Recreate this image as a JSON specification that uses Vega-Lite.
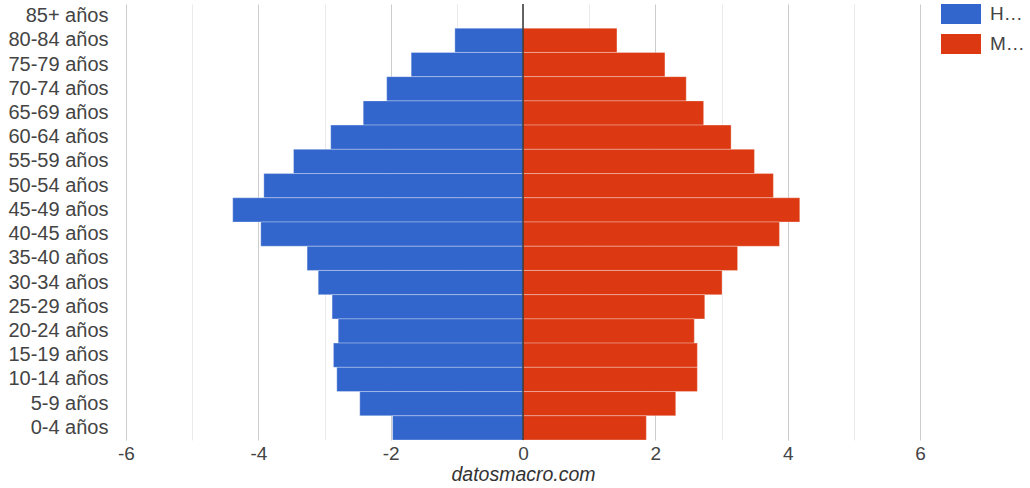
{
  "$schema": "https://vega.github.io/schema/vega-lite/v6.json",
  "autosize": "none",
  "width": 794,
  "height": 436,
  "padding": {"left": 126, "top": 4, "right": 110, "bottom": 48},
  "background": "white",
  "config": {
    "font": "Liberation Sans",
    "view": {"stroke": null}
  },
  "data": {
    "values": [
      {"edad": "85+ años", "sexo": "Hombres", "valor": 0},
      {"edad": "85+ años", "sexo": "Mujeres", "valor": 0},
      {"edad": "80-84 años", "sexo": "Hombres", "valor": -1.03},
      {"edad": "80-84 años", "sexo": "Mujeres", "valor": 1.42},
      {"edad": "75-79 años", "sexo": "Hombres", "valor": -1.69},
      {"edad": "75-79 años", "sexo": "Mujeres", "valor": 2.145},
      {"edad": "70-74 años", "sexo": "Hombres", "valor": -2.06},
      {"edad": "70-74 años", "sexo": "Mujeres", "valor": 2.467},
      {"edad": "65-69 años", "sexo": "Hombres", "valor": -2.415},
      {"edad": "65-69 años", "sexo": "Mujeres", "valor": 2.73},
      {"edad": "60-64 años", "sexo": "Hombres", "valor": -2.906},
      {"edad": "60-64 años", "sexo": "Mujeres", "valor": 3.145},
      {"edad": "55-59 años", "sexo": "Hombres", "valor": -3.468},
      {"edad": "55-59 años", "sexo": "Mujeres", "valor": 3.498},
      {"edad": "50-54 años", "sexo": "Hombres", "valor": -3.917},
      {"edad": "50-54 años", "sexo": "Mujeres", "valor": 3.784},
      {"edad": "45-49 años", "sexo": "Hombres", "valor": -4.387},
      {"edad": "45-49 años", "sexo": "Mujeres", "valor": 4.183},
      {"edad": "40-45 años", "sexo": "Hombres", "valor": -3.963},
      {"edad": "40-45 años", "sexo": "Mujeres", "valor": 3.876},
      {"edad": "35-40 años", "sexo": "Hombres", "valor": -3.263},
      {"edad": "35-40 años", "sexo": "Mujeres", "valor": 3.243},
      {"edad": "30-34 años", "sexo": "Hombres", "valor": -3.095},
      {"edad": "30-34 años", "sexo": "Mujeres", "valor": 3.008},
      {"edad": "25-29 años", "sexo": "Hombres", "valor": -2.885},
      {"edad": "25-29 años", "sexo": "Mujeres", "valor": 2.747},
      {"edad": "20-24 años", "sexo": "Hombres", "valor": -2.793},
      {"edad": "20-24 años", "sexo": "Mujeres", "valor": 2.589},
      {"edad": "15-19 años", "sexo": "Hombres", "valor": -2.865},
      {"edad": "15-19 años", "sexo": "Mujeres", "valor": 2.635},
      {"edad": "10-14 años", "sexo": "Hombres", "valor": -2.814},
      {"edad": "10-14 años", "sexo": "Mujeres", "valor": 2.635},
      {"edad": "5-9 años", "sexo": "Hombres", "valor": -2.467},
      {"edad": "5-9 años", "sexo": "Mujeres", "valor": 2.308},
      {"edad": "0-4 años", "sexo": "Hombres", "valor": -1.971},
      {"edad": "0-4 años", "sexo": "Mujeres", "valor": 1.864}
    ]
  },
  "layer": [
    {
      "mark": {"type": "bar", "stroke": "#ffffff", "strokeWidth": 1, "strokeOpacity": 0.3},
      "encoding": {
        "y": {
          "field": "edad",
          "type": "nominal",
          "sort": null,
          "scale": {"paddingInner": 0, "paddingOuter": 0},
          "axis": {
            "title": null,
            "domain": false,
            "ticks": false,
            "labelFontSize": 20,
            "labelColor": "#444444",
            "labelPadding": 18
          }
        },
        "x": {
          "field": "valor",
          "type": "quantitative",
          "scale": {"domain": [-6, 6], "nice": false},
          "axis": {
            "title": "datosmacro.com",
            "titleFontStyle": "italic",
            "titleFontWeight": "normal",
            "titleFontSize": 19.5,
            "titleColor": "#333333",
            "titlePadding": 2,
            "values": [-6, -5, -4, -3, -2, -1, 0, 1, 2, 3, 4, 5, 6],
            "labelExpr": "datum.value % 2 === 0 ? '' + datum.value : ''",
            "labelFlush": false,
            "labelFontSize": 19,
            "labelColor": "#444444",
            "labelPadding": 4,
            "domain": false,
            "ticks": false,
            "grid": true,
            "gridColor": {"condition": {"test": "datum.value % 2 === 0", "value": "#cccccc"}, "value": "#ebebeb"},
            "gridWidth": 1
          }
        },
        "color": {
          "field": "sexo",
          "type": "nominal",
          "scale": {"domain": ["Hombres", "Mujeres"], "range": ["#3366cc", "#dc3912"]},
          "legend": {
            "title": null,
            "orient": "none",
            "legendX": 815,
            "legendY": -10,
            "symbolType": "M-1,-0.5H1V0.5H-1Z",
            "symbolSize": 1600,
            "symbolStrokeWidth": 0,
            "labelFontSize": 19,
            "labelColor": "#444444",
            "labelLimit": 40,
            "labelOffset": 9,
            "rowPadding": -2
          }
        }
      }
    },
    {
      "data": {"values": [{"cero": 0}]},
      "mark": {"type": "rule", "color": "#333333", "strokeWidth": 1.5},
      "encoding": {
        "x": {"field": "cero", "type": "quantitative"}
      }
    }
  ]
}
